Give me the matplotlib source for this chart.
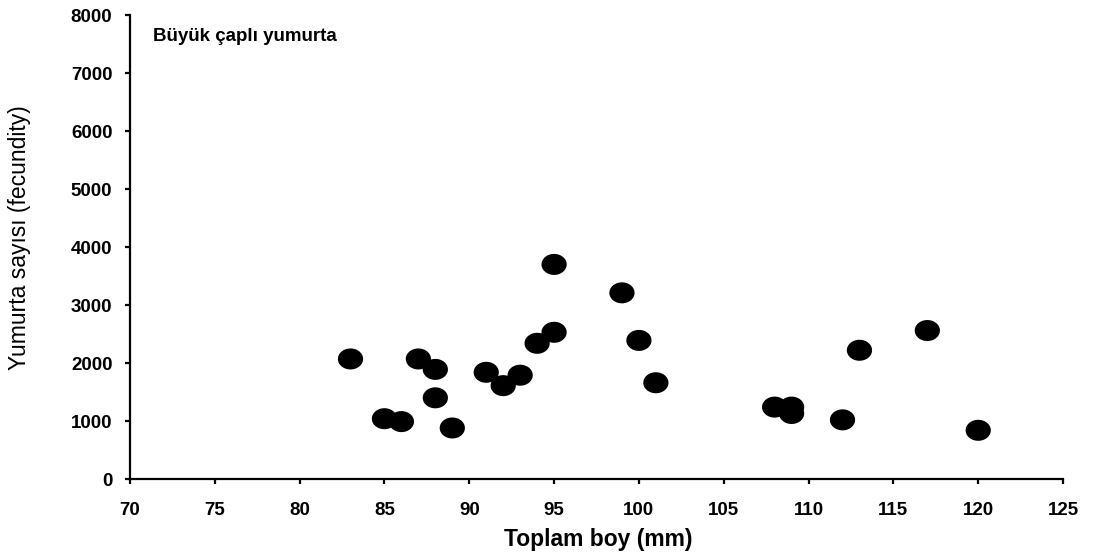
import matplotlib.pyplot as plt
import numpy as np
from matplotlib.path import Path

# total length (mm) and fecundity
boy = [83, 85, 86, 87, 88, 88, 89, 91, 92, 93, 94, 95, 95, 99, 100, 101,
       108, 109, 109, 112, 113, 117, 120]
yumurta = [2070, 1040, 990, 2070, 1890, 1400, 880, 1840, 1610, 1790, 2340, 3700, 2530, 3210, 2390, 1660,
           1240, 1240, 1130, 1020, 2220, 2560, 840]

plt.rcParams['font.family'] = ['Liberation Sans', 'DejaVu Sans']

# slightly wide ellipse marker
t = np.linspace(0, 2 * np.pi, 60)
verts = np.column_stack([1.2 * np.cos(t), np.sin(t)])
ellipse = Path(verts, closed=True)

fig = plt.figure(figsize=(10.94, 5.6), dpi=100)
ax = fig.add_axes([0.1188, 0.1446, 0.8529, 0.8286])

ax.scatter(boy, yumurta, marker=ellipse, s=330, color='black', edgecolors='none', zorder=3)

ax.set_xlim(70, 125)
ax.set_ylim(0, 8000)
ax.set_xticks(range(70, 126, 5))
ax.set_yticks(range(0, 8001, 1000))

for s in ['top', 'right']:
    ax.spines[s].set_visible(False)
for s in ['left', 'bottom']:
    ax.spines[s].set_linewidth(1.6)

ax.tick_params(axis='both', direction='out', length=3.6, width=1.6, labelsize=13.5)
for lab in ax.get_xticklabels() + ax.get_yticklabels():
    lab.set_fontweight('bold')
ax.tick_params(axis='x', pad=13)
ax.tick_params(axis='y', pad=9)

ax.set_xlabel('Toplam boy (mm)', fontsize=16.5, fontweight='bold')
ax.xaxis.set_label_coords(0.502, -0.106)
ax.set_ylabel('Yumurta sayısı (fecundity)', fontsize=16.5)
ax.yaxis.set_label_coords(-0.106, 0.52)

ax.text(0.0247, 0.944, 'Büyük çaplı yumurta', transform=ax.transAxes, fontsize=13.5,
        fontweight='bold', va='baseline', ha='left')

plt.savefig('out.png', dpi=100)
